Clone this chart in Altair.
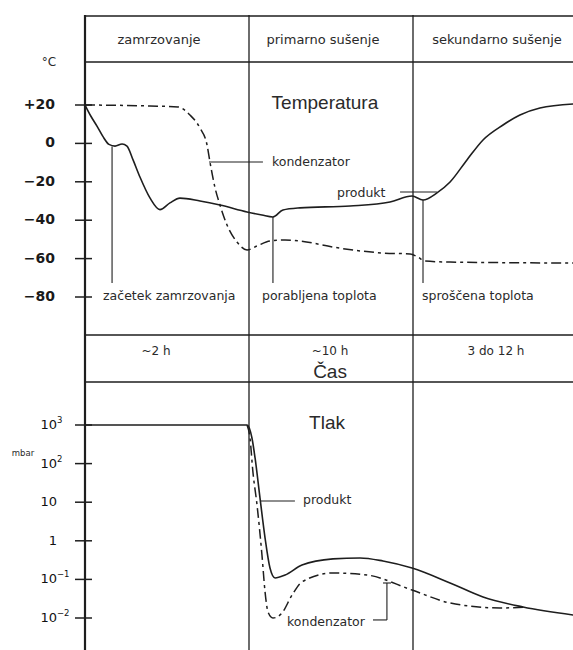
import altair as alt
import pandas as pd

# ---------------- data ----------------
phase_bounds = [0, 1, 2]
header_labels = ["zamrzovanje", "primarno sušenje", "sekundarno sušenje"]
header_x = [0.451, 1.451, 2.512]
duration_labels = ["~2 h", "~10 h", "3 do 12 h"]
duration_x = [0.433, 1.494, 2.506]

temp_ticks = [20, 0, -20, -40, -60, -80]
temp_tick_labels = ["+20", "0", "−20", "−40", "−60", "−80"]

press_ticks = [1000, 100, 10, 1, 0.1, 0.01]
press_base = ["10", "10", "10", "1", "10", "10"]
press_exp = ["3", "2", "", "", "−1", "−2"]

# temperature, product (solid)
tp_t = [0, 0.037, 0.073, 0.110, 0.146, 0.183, 0.226, 0.256, 0.293, 0.335, 0.396,
        0.457, 0.518, 0.579, 0.701, 0.823, 0.988, 1.079, 1.146, 1.207, 1.311,
        1.616, 1.860, 1.994, 2.061, 2.146, 2.226, 2.329, 2.427, 2.549, 2.652,
        2.774, 2.976]
tp_v = [20, 14.0, 9.0, 3.5, -0.5, -1.4, -0.3, -1.4, -8.6, -17.5, -28.4,
        -34.5, -31, -28.5, -30, -32.1, -35.7, -37.3, -38.3, -34.7, -33.6,
        -32.6, -30.5, -27.4, -29.5, -25.8, -20.1, -8.6, 1.8, 9.6, 14.8,
        18.4, 20.5]

# temperature, condenser (dash-dot)
tk_t = [0, 0.396, 0.567, 0.640, 0.701, 0.744, 0.762, 0.793, 0.823, 0.866, 0.927,
        0.988, 1.049, 1.128, 1.220, 1.311, 1.512, 1.817, 1.982, 2.030, 2.073,
        2.226, 2.976]
tk_v = [20, 19.5, 19, 14.8, 8.0, -0.8, -9.7, -23.2, -32.1, -42.5, -51.4,
        -55.5, -53.4, -50.8, -50.3, -50.8, -54, -57.1, -57.6, -59.2, -61.3,
        -61.8, -62.3]

# pressure (mbar), product (solid)
pp_t = [0, 0.988, 1.018, 1.037, 1.067, 1.098, 1.128, 1.159, 1.220, 1.323, 1.512,
        1.677, 1.817, 1.994, 2.226, 2.427, 2.671, 2.976]
pp_v = [1000, 1000, 460, 140, 12.9, 1.18, 0.197, 0.109, 0.130, 0.236, 0.34,
        0.36, 0.30, 0.197, 0.081, 0.035, 0.0193, 0.012]

# pressure (mbar), condenser (dash-dot)
pk_t = [0.988, 1.006, 1.024, 1.049, 1.079, 1.098, 1.116, 1.146, 1.201, 1.262,
        1.323, 1.512, 1.720, 1.994, 2.226, 2.530, 2.695]
pk_v = [1000, 460, 60, 8.45, 0.43, 0.047, 0.0143, 0.010, 0.0135, 0.039,
        0.086, 0.147, 0.130, 0.053, 0.0245, 0.0182, 0.0193]

# annotations (temperature panel)
tnote_text = ["kondenzator", "produkt", "začetek zamrzovanja", "porabljena toplota", "sproščena toplota"]
tnote_t = [1.140, 1.537, 0.110, 1.079, 2.055]
tnote_v = [-9.7, -25.8, -79.5, -79.5, -79.5]
tlead_t1 = [0.756, 1.921, 0.165, 1.146, 2.061]
tlead_t2 = [1.085, 2.146, 0.165, 1.146, 2.061]
tlead_v1 = [-9.7, -25.3, -1.6, -38.3, -29.5]
tlead_v2 = [-9.7, -25.3, -72.7, -72.7, -72.7]

# annotations (pressure panel)
pnote_text = ["produkt", "kondenzator"]
pnote_t = [1.329, 1.232]
pnote_v = [11.4, 0.0079]
plead_t1 = [1.067, 1.756, 1.841, 1.817]
plead_t2 = [1.280, 1.841, 1.841, 1.866]
plead_v1 = [10.7, 0.0089, 0.0089, 0.0807]
plead_v2 = [10.7, 0.0089, 0.0807, 0.0807]

# ---------------- chart ----------------
W, H = 488, 635
FONT = "DejaVu Sans"
INK = "#1e1e1e"
TXT = "#2a2a2a"

xs = alt.Scale(domain=[0, W / 164], nice=False, zero=False)


def X(f):
    return alt.X(f"{f}:Q", scale=xs, axis=None)


def YT(f):
    return alt.Y(f"{f}:Q", scale=alt.Scale(domain=[-80, 20], range=[282, 90], nice=False, zero=False), axis=None)


def YP(f):
    return alt.Y(f"{f}:Q", scale=alt.Scale(type="log", domain=[0.01, 1000], range=[603, 410], nice=False), axis=None)


layers = []

# frame: horizontal rows (header, temperature, time, pressure)
rows = pd.DataFrame({"py": [1, 47, 320, 367]})
layers.append(alt.Chart(rows).mark_rule(color=INK, strokeWidth=1.4).encode(
    y=alt.Y("py:Q", scale=None, axis=None), x=alt.value(0), x2=alt.value(W)))
# vertical phase boundaries
vb = pd.DataFrame({"t": phase_bounds, "w": [2.2, 1.3, 1.3]})
layers.append(alt.Chart(vb).mark_rule(color=INK).encode(
    x=X("t"), y=alt.value(0), y2=alt.value(H),
    strokeWidth=alt.StrokeWidth("w:Q", scale=None, legend=None)))

# header + duration texts
hd = pd.DataFrame({"t": header_x, "lab": header_labels})
layers.append(alt.Chart(hd).mark_text(font=FONT, fontSize=13, color=TXT, baseline="middle").encode(
    x=X("t"), y=alt.value(25), text="lab:N"))
dd = pd.DataFrame({"t": duration_x, "lab": duration_labels})
layers.append(alt.Chart(dd).mark_text(font=FONT, fontSize=12, color=TXT, baseline="middle").encode(
    x=X("t"), y=alt.value(336), text="lab:N"))
layers.append(alt.Chart(pd.DataFrame({"t": [1.494], "lab": ["Čas"]})).mark_text(
    font="Liberation Sans", fontSize=19, color=TXT, baseline="middle").encode(
    x=X("t"), y=alt.value(357), text="lab:N"))

# temperature axis
tt = pd.DataFrame({"v": temp_ticks, "lab": temp_tick_labels})
layers.append(alt.Chart(tt).mark_rule(color=INK, strokeWidth=1.5).encode(
    y=YT("v"), x=alt.value(-10), x2=alt.value(7)))
layers.append(alt.Chart(tt).mark_text(font=FONT, fontSize=14, fontWeight="bold", color="#1a1a1a",
                                      align="right", baseline="middle").encode(
    y=YT("v"), x=alt.value(-30), text="lab:N"))
layers.append(alt.Chart(pd.DataFrame({"lab": ["°C"]})).mark_text(
    font=FONT, fontSize=12, color=TXT, baseline="middle").encode(
    x=alt.value(-36), y=alt.value(47), text="lab:N"))

# pressure axis
pt = pd.DataFrame({"v": press_ticks, "base": press_base, "exp": press_exp})
layers.append(alt.Chart(pt).mark_rule(color=INK, strokeWidth=1.5).encode(
    y=YP("v"), x=alt.value(-10), x2=alt.value(7)))
layers.append(alt.Chart(pt).mark_text(font=FONT, fontSize=13, color="#111", align="right", baseline="middle").encode(
    y=YP("v"), x=alt.value(-28), text="base:N"))
layers.append(alt.Chart(pt).mark_text(font=FONT, fontSize=8.5, color="#111", align="left", baseline="middle", dy=-5).encode(
    y=YP("v"), x=alt.value(-28), text="exp:N"))
layers.append(alt.Chart(pd.DataFrame({"lab": ["mbar"]})).mark_text(
    font=FONT, fontSize=8.5, color=TXT, baseline="middle").encode(
    x=alt.value(-62), y=alt.value(438), text="lab:N"))

# titles inside panels
layers.append(alt.Chart(pd.DataFrame({"t": [1.463], "v": [21.0], "lab": ["Temperatura"]})).mark_text(
    font="Liberation Sans", fontSize=19, color=TXT, baseline="middle").encode(
    x=X("t"), y=YT("v"), text="lab:N"))
layers.append(alt.Chart(pd.DataFrame({"t": [1.476], "v": [1130], "lab": ["Tlak"]})).mark_text(
    font="Liberation Sans", fontSize=19, color=TXT, baseline="middle").encode(
    x=X("t"), y=YP("v"), text="lab:N"))

DASHDOT = [10, 4, 3, 4]

# temperature curves
layers.append(alt.Chart(pd.DataFrame({"t": tp_t, "v": tp_v})).mark_line(
    color=INK, strokeWidth=1.6, interpolate="monotone").encode(x=X("t"), y=YT("v")))
layers.append(alt.Chart(pd.DataFrame({"t": tk_t, "v": tk_v})).mark_line(
    color=INK, strokeWidth=1.5, strokeDash=DASHDOT, interpolate="monotone").encode(x=X("t"), y=YT("v")))

# pressure curves
layers.append(alt.Chart(pd.DataFrame({"t": pp_t, "v": pp_v})).mark_line(
    color=INK, strokeWidth=1.6, interpolate="monotone").encode(x=X("t"), y=YP("v")))
layers.append(alt.Chart(pd.DataFrame({"t": pk_t, "v": pk_v})).mark_line(
    color=INK, strokeWidth=1.5, strokeDash=DASHDOT, interpolate="monotone").encode(x=X("t"), y=YP("v")))

# temperature annotations
tl = pd.DataFrame({"t1": tlead_t1, "t2": tlead_t2, "v1": tlead_v1, "v2": tlead_v2})
layers.append(alt.Chart(tl).mark_rule(color=INK, strokeWidth=1.1).encode(
    x=X("t1"), x2="t2:Q", y=YT("v1"), y2="v2:Q"))
tn = pd.DataFrame({"t": tnote_t, "v": tnote_v, "lab": tnote_text})
layers.append(alt.Chart(tn).mark_text(font=FONT, fontSize=12.5, color=TXT, align="left", baseline="middle").encode(
    x=X("t"), y=YT("v"), text="lab:N"))

# pressure annotations
pl = pd.DataFrame({"t1": plead_t1, "t2": plead_t2, "v1": plead_v1, "v2": plead_v2})
layers.append(alt.Chart(pl).mark_rule(color=INK, strokeWidth=1.1).encode(
    x=X("t1"), x2="t2:Q", y=YP("v1"), y2="v2:Q"))
pn = pd.DataFrame({"t": pnote_t, "v": pnote_v, "lab": pnote_text})
layers.append(alt.Chart(pn).mark_text(font=FONT, fontSize=12.5, color=TXT, align="left", baseline="middle").encode(
    x=X("t"), y=YP("v"), text="lab:N"))

chart = alt.layer(*layers).resolve_scale(y="independent").properties(
    width=W, height=H,
    autosize=alt.AutoSizeParams(type="none"),
    padding={"left": 85, "top": 15, "right": 0, "bottom": 0},
    background="white",
).configure_view(stroke=None)

chart.save("out.html", embed_options={"renderer": "svg", "actions": False})
